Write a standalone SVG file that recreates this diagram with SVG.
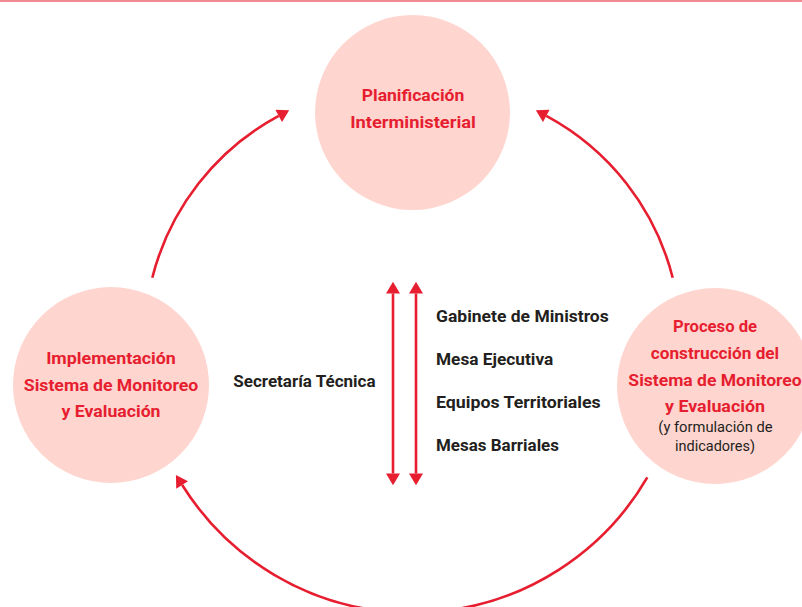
<svg xmlns="http://www.w3.org/2000/svg" width="802" height="607" viewBox="0 0 802 607">
<style>
.node circle{fill:#ffd5cf}
.t{font-family:Roboto,"Liberation Sans",sans-serif;font-weight:700;font-size:17px;text-anchor:middle}
.red{fill:#e61e30}
.dark{fill:#231f20;text-anchor:start}
.small{font-family:Roboto,"Liberation Sans",sans-serif;font-weight:400;font-size:14.5px;fill:#231f20;text-anchor:middle}
.conn path{fill:none;stroke:#e61e30;stroke-width:2.6}
</style>
<defs>
<marker id="ah" markerUnits="userSpaceOnUse" markerWidth="14" markerHeight="14" refX="0" refY="6.5" orient="auto-start-reverse" viewBox="0 0 11 13">
<path d="M0,0 L11,6.5 L0,13 z" fill="#e61e30"/>
</marker>
</defs>
<rect x="0" y="0" width="802" height="2" fill="#f28a94"/>
<g id="node-planificacion" class="node">
<circle cx="412.5" cy="112.5" r="97.5"/>
<text class="t red" x="413" y="101" textLength="102.6" lengthAdjust="spacingAndGlyphs">Planificación</text>
<text class="t red" x="413" y="127.7" textLength="125.7" lengthAdjust="spacingAndGlyphs">Interministerial</text>
</g>
<g id="node-implementacion" class="node">
<circle cx="111" cy="385" r="98"/>
<text class="t red" x="111" y="364.3" textLength="129.7" lengthAdjust="spacingAndGlyphs">Implementación</text>
<text class="t red" x="111" y="391" textLength="174.3" lengthAdjust="spacingAndGlyphs">Sistema de Monitoreo</text>
<text class="t red" x="111" y="417.3" textLength="99" lengthAdjust="spacingAndGlyphs">y Evaluación</text>
</g>
<g id="node-proceso" class="node">
<circle cx="715" cy="386" r="98"/>
<text class="t red" x="715" y="332.3" textLength="84" lengthAdjust="spacingAndGlyphs">Proceso de</text>
<text class="t red" x="715" y="359" textLength="128.3" lengthAdjust="spacingAndGlyphs">construcción del</text>
<text class="t red" x="715" y="385.7" textLength="173.3" lengthAdjust="spacingAndGlyphs">Sistema de Monitoreo</text>
<text class="t red" x="715" y="411.7" textLength="100" lengthAdjust="spacingAndGlyphs">y Evaluación</text>
<text class="small" x="715.5" y="431.7" textLength="114.3" lengthAdjust="spacingAndGlyphs">(y formulación de</text>
<text class="small" x="715" y="450.7" textLength="80" lengthAdjust="spacingAndGlyphs">indicadores)</text>
</g>
<g id="node-secretaria">
<text class="t dark" x="233.3" y="386.7" textLength="142.3" lengthAdjust="spacingAndGlyphs">Secretaría Técnica</text>
</g>
<g id="node-lista">
<text class="t dark" x="436" y="322.3" textLength="172.7" lengthAdjust="spacingAndGlyphs">Gabinete de Ministros</text>
<text class="t dark" x="436" y="365" textLength="117.3" lengthAdjust="spacingAndGlyphs">Mesa Ejecutiva</text>
<text class="t dark" x="436" y="408" textLength="164.7" lengthAdjust="spacingAndGlyphs">Equipos Territoriales</text>
<text class="t dark" x="436" y="451" textLength="123" lengthAdjust="spacingAndGlyphs">Mesas Barriales</text>
</g>
<g id="connectors" class="conn">
<path d="M152.3,277.7 A255,255 0 0 1 278.7,115.9" marker-end="url(#ah)"/>
<path d="M672.7,277.7 A255,255 0 0 0 546.3,115.9" marker-end="url(#ah)"/>
<path d="M647.3,477.3 A271.5,271.5 0 0 1 182.2,485" marker-end="url(#ah)"/>
<path d="M393,293.5 L393,473.5" marker-start="url(#ah)" marker-end="url(#ah)"/>
<path d="M416,293.5 L416,473.5" marker-start="url(#ah)" marker-end="url(#ah)"/>
</g>
</svg>
